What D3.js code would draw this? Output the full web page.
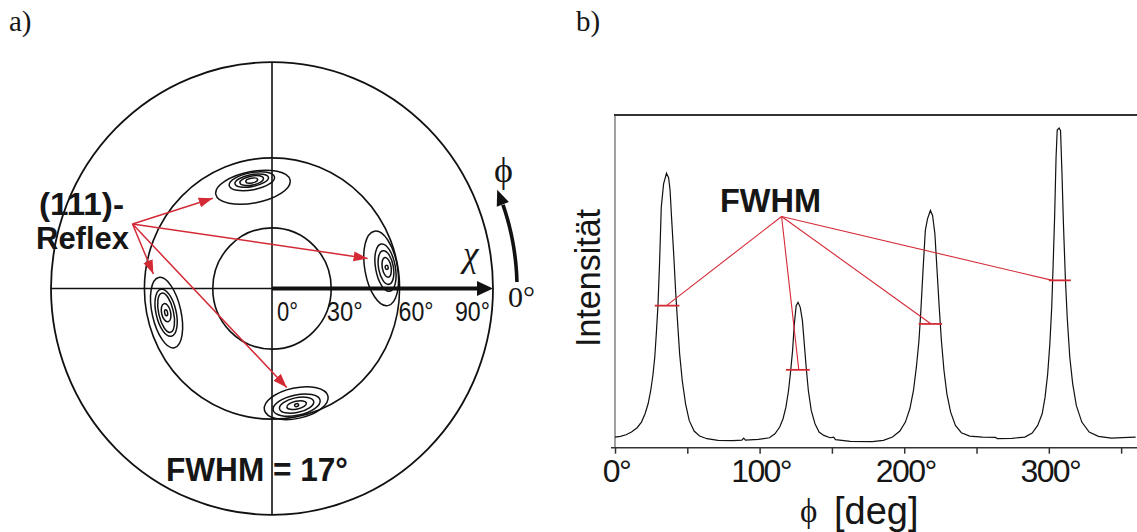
<!DOCTYPE html>
<html>
<head>
<meta charset="utf-8">
<script src="https://cdn.jsdelivr.net/npm/d3@7"></script>
<style>
  body { margin: 0; background: #fff; }
  svg text { font-family: "Liberation Sans", Arial, sans-serif; fill: #161616; }
  svg text.serif { font-family: "Liberation Serif", "Times New Roman", "DejaVu Serif", serif; }
</style>
</head>
<body>
<svg id="fig" width="1137" height="532"></svg>
<script>
// ---------- a) pole figure ----------
const chiCircles = [30, 60, 90];
const chiLabelValues = [0, 30, 60, 90];
const chiLabels = ["0°", "30°", "60°", "90°"];

// (111) reflexes: centre in (chi, phi), degrees
const reflexChi = [51.8, 55.6, 52.3, 55.6];
const reflexPhi = [100.9, 10.2, 192.6, 282.2];
// contour half widths (deg), inner -> outer, per reflex
const contourDPhi = [
  [3.2, 6.4, 9.1, 12.3, 20.2],
  [1.0, 4.9, 8.4, 11.8, 18.6],
  [1.6, 4.9, 10.6, 12.7, 19.0],
  [1.0, 4.9, 8.6, 11.8, 16.0]
];
const contourDChi = [
  [1.0, 1.9, 2.5, 3.6, 6.6],
  [0.6, 1.8, 3.0, 4.0, 6.6],
  [0.6, 1.9, 3.1, 4.2, 6.0],
  [0.6, 1.6, 3.0, 4.1, 6.2]
];
const contourShift = [
  [0, 0, 0, -0.3, -2.8],
  [0, 0, -0.3, -0.5, -2.3],
  [0, 0, 0, 0, -0.2],
  [0, 0, 0, 0, -0.8]
];
// annotation arrows (chi, phi)
const arrowFrom = [69.4, 155.7];
const arrowTipChi = [51.3, 48.7, 56.8, 47.7];
const arrowTipPhi = [123.9, 17.1, 173.2, 278.7];

// ---------- b) phi scan ----------
const scanPhi = [0, 3.8, 7.6, 11.4, 15.3, 18.3, 20.8, 22.9, 24.7, 26.2, 27.5, 28.7, 29.7, 30.8, 32.0,
  33.6, 35.6, 37.1, 38.1, 39.1, 40.7, 41.9, 43.2, 44.7, 46.5, 48.8, 51.3, 54.7, 58.5, 63.6,
  71.2, 81.3, 87.7, 89.0, 90.2, 99.1, 106.8,
  110.6, 113.9, 116.2, 118.2, 120.0, 121.5, 122.8, 124.0, 125.3, 126.6, 128.1, 129.6, 130.9, 132.2, 133.7,
  135.7, 138.3, 141.1, 144.4, 148.7, 151.2, 152.5, 162.7, 177.9, 185.6,
  191.9, 197.0, 200.8, 203.9, 206.4, 208.4, 210.2, 211.5, 213.0, 214.6, 216.1, 218.1, 219.6, 221.2, 222.7,
  224.2, 225.7, 227.5, 229.5, 232.1, 235.4, 239.5, 245.3, 254.2, 263.1, 264.4, 274.5, 283.4,
  288.5, 292.3, 295.4, 297.4, 299.2, 300.7, 302.0, 303.0, 304.0, 305.0, 305.8, 307.1, 308.1, 309.1, 310.1,
  311.4, 312.7, 314.5, 316.5, 319.0, 322.8, 327.9, 334.3, 343.2, 350.8, 360];
const scanInt = [3.2, 3.4, 3.9, 4.7, 6.0, 7.7, 10.2, 13.2, 17.2, 21.7, 27.2, 35.2, 42.7, 55.3, 72.3,
  79.3, 82.5, 81.1, 77.3, 69.3, 57.3, 47.2, 38.2, 28.2, 20.2, 13.2, 8.2, 5.0, 3.5, 2.7,
  2.2, 2.1, 2.3, 2.9, 2.3, 2.5, 3.0,
  4.2, 6.2, 8.7, 12.2, 17.2, 23.2, 29.2, 37.2, 42.7, 43.7, 42.2, 38.2, 31.2, 24.2, 17.2,
  11.2, 7.2, 4.7, 3.7, 3.0, 3.2, 2.4, 1.9, 1.8, 2.2,
  3.2, 5.0, 7.7, 11.7, 17.2, 24.2, 32.2, 41.2, 53.3, 65.3, 68.8, 71.3, 69.8, 64.3, 53.3,
  42.2, 32.2, 23.2, 16.2, 10.7, 6.7, 4.5, 3.5, 3.2, 3.1, 2.7, 2.8, 3.2,
  4.4, 6.7, 10.2, 15.2, 22.2, 31.2, 42.2, 55.3, 69.3, 87.3, 95.5, 96.1, 95.3, 82.3, 67.3,
  51.3, 39.2, 27.2, 19.2, 12.7, 7.7, 4.7, 3.4, 2.9, 3.0, 3.2];
const phiTicks = [0, 50, 100, 150, 200, 250, 300, 350];
const phiTickLabels = ["0°", "", "100°", "", "200°", "", "300°", ""];
// FWHM bars
const fwhmLeft = [27.5, 118.2, 210.0, 300.0];
const fwhmRight = [44.5, 134.7, 226.2, 315.2];
const fwhmLevel = [42.7, 23.4, 37.2, 50.3];
const fwhmLeaderPhi = [35.6, 127.1, 218.6, 302.5];
const fwhmHub = [115.2, 69.5];

const RED = "#d42a36";
const svg = d3.select("#fig");

svg.append("defs").append("marker")
    .attr("id", "redhead")
    .attr("markerUnits", "userSpaceOnUse")
    .attr("markerWidth", 15).attr("markerHeight", 11)
    .attr("refX", 14).attr("refY", 5.5)
    .attr("orient", "auto")
  .append("path")
    .attr("d", "M0,0.5 L14,5.5 L0,10.5 Z")
    .attr("fill", RED);

svg.append("text").attr("class", "serif")
    .attr("x", 9).attr("y", 31).attr("font-size", 29).text("a)");
svg.append("text").attr("class", "serif")
    .attr("x", 576).attr("y", 31).attr("font-size", 29).text("b)");

// ---- pole figure geometry (stereographic) ----
const cx = 272, cy = 288.5, R = 221, ky = 1.024;
const rScale = d3.scaleLinear().domain([0, 1]).range([0, R]);
const rad = chi => rScale(Math.tan(chi * Math.PI / 360));
function pole(chi, phi) {
  const r = rad(chi), a = phi * Math.PI / 180;
  return [cx + r * Math.cos(a), cy - ky * r * Math.sin(a)];
}

const pa = svg.append("g");

pa.selectAll("ellipse.ring").data(chiCircles).enter()
  .append("ellipse")
    .attr("cx", cx).attr("cy", cy)
    .attr("rx", d => rad(d)).attr("ry", d => ky * rad(d))
    .attr("fill", "none").attr("stroke", "#111")
    .attr("stroke-width", d => d == 90 ? 1.8 : 1.6);

// cross lines
pa.append("line")
    .attr("x1", cx).attr("x2", cx)
    .attr("y1", cy - ky * R).attr("y2", cy + ky * R)
    .attr("stroke", "#111").attr("stroke-width", 1.6);
pa.append("line")
    .attr("x1", cx - R).attr("x2", cx)
    .attr("y1", cy).attr("y2", cy)
    .attr("stroke", "#111").attr("stroke-width", 1.6);

// chi axis arrow
const tipX = cx + rad(90);
pa.append("line")
    .attr("x1", cx).attr("x2", tipX - 12)
    .attr("y1", cy).attr("y2", cy)
    .attr("stroke", "#111").attr("stroke-width", 4.2);
pa.append("path")
    .attr("d", `M${tipX},${cy} L${tipX - 16},${cy - 7.5} L${tipX - 16},${cy + 7.5} Z`)
    .attr("fill", "#111");

// chi labels
const labDx = [5, -4.5, -1, -38];
const labLen = [21, 36, 35, 35];
pa.selectAll("text.chi").data(chiLabelValues).enter()
  .append("text")
    .attr("x", (d, i) => cx + rad(d) + labDx[i])
    .attr("y", 321)
    .attr("font-size", 27)
    .attr("textLength", (d, i) => labLen[i])
    .attr("lengthAdjust", "spacingAndGlyphs")
    .text((d, i) => chiLabels[i]);

pa.append("text").attr("class", "serif")
    .attr("x", 463).attr("y", 266).attr("font-size", 35)
    .attr("font-style", "italic").text("χ");

// phi rotation arrow
const arcChi = 95.9;
const arcPts = d3.range(1.5, 19.6, 0.5).map(p => pole(arcChi, p));
pa.append("path")
    .attr("d", d3.line()(arcPts))
    .attr("fill", "none").attr("stroke", "#111").attr("stroke-width", 3.6);
{
  const tip = pole(arcChi, 23.2), base = pole(arcChi, 19.6);
  const dx = tip[0] - base[0], dy = tip[1] - base[1], L = Math.hypot(dx, dy);
  const nx = -dy / L * 6.5, ny = dx / L * 6.5;
  pa.append("path")
      .attr("d", `M${tip[0]},${tip[1]} L${base[0] + nx},${base[1] + ny} L${base[0] - nx},${base[1] - ny} Z`)
      .attr("fill", "#111");
}
pa.append("text").attr("class", "serif")
    .attr("x", 494).attr("y", 182).attr("font-size", 36).text("ϕ");
pa.append("text").attr("class", "serif")
    .attr("x", 508).attr("y", 307).attr("font-size", 30).text("0°");

// reflex contours
reflexChi.forEach((chi, i) => {
  const phi = reflexPhi[i];
  const g = pa.append("g");
  g.selectAll("ellipse").data(contourDPhi[i]).enter()
    .append("ellipse")
      .attr("transform", (d, j) => {
        const c = pole(chi + contourShift[i][j], phi);
        return `translate(${c[0]},${c[1]}) rotate(${90 - phi})`;
      })
      .attr("rx", d => rad(chi) * d * Math.PI / 180)
      .attr("ry", (d, j) => (rad(chi + contourDChi[i][j]) - rad(chi - contourDChi[i][j])) / 2)
      .attr("fill", "none").attr("stroke", "#111").attr("stroke-width", 1.5);
});

// red annotation arrows
const from = pole(arrowFrom[0], arrowFrom[1]);
pa.selectAll("line.ann").data(arrowTipChi).enter()
  .append("line")
    .attr("x1", from[0]).attr("y1", from[1])
    .attr("x2", (d, i) => pole(d, arrowTipPhi[i])[0])
    .attr("y2", (d, i) => pole(d, arrowTipPhi[i])[1])
    .attr("stroke", RED).attr("stroke-width", 1.5)
    .attr("marker-end", "url(#redhead)");

pa.append("text").attr("x", 39).attr("y", 215)
    .attr("font-size", 31).attr("font-weight", "bold")
    .attr("textLength", 85).attr("lengthAdjust", "spacingAndGlyphs")
    .text("(111)-");
pa.append("text").attr("x", 36).attr("y", 249)
    .attr("font-size", 32).attr("font-weight", "bold")
    .attr("textLength", 93).attr("lengthAdjust", "spacingAndGlyphs")
    .text("Reflex");
pa.append("text").attr("x", 166).attr("y", 481)
    .attr("font-size", 34).attr("font-weight", "bold")
    .attr("textLength", 182).attr("lengthAdjust", "spacingAndGlyphs")
    .text("FWHM = 17°");

// ---- b) phi scan ----
const x = d3.scaleLinear().domain([0, 360]).range([615, 1135.6]);
const y = d3.scaleLinear().domain([0, 100]).range([447.7, 115]);
const pb = svg.append("g");

pb.append("line")
    .attr("x1", x(0)).attr("x2", x(0)).attr("y1", y(100)).attr("y2", y(0))
    .attr("stroke", "#8a8a8a").attr("stroke-width", 1.6);
pb.append("line")
    .attr("x1", x(0) - 1).attr("x2", 1137).attr("y1", y(100)).attr("y2", y(100))
    .attr("stroke", "#333").attr("stroke-width", 2);

const xAxis = pb.append("g")
    .attr("transform", `translate(0,${y(0)})`)
    .call(d3.axisBottom(x).tickValues(phiTicks).tickSize(6).tickSizeOuter(0)
      .tickFormat((d, i) => phiTickLabels[i]));
xAxis.select(".domain").attr("stroke", "#333").attr("stroke-width", 1.6)
    .attr("d", `M${x(0) - 4},0H1137`);
xAxis.selectAll(".tick line").attr("stroke", "#333").attr("stroke-width", 1.5);
xAxis.selectAll(".tick text")
    .attr("y", 34.3).attr("dy", 0).attr("dx", 1)
    .attr("font-size", 32).attr("letter-spacing", -1.6)
    .style("font-family", "'Liberation Sans', Arial, sans-serif")
    .attr("fill", "#161616");

const scan = scanPhi.map((p, i) => [p, scanInt[i]]);
pb.append("path")
    .datum(scan)
    .attr("d", d3.line().x(d => x(d[0])).y(d => y(d[1])))
    .attr("fill", "none").attr("stroke", "#111").attr("stroke-width", 1.2);

// FWHM bars and leaders
pb.selectAll("line.bar").data(fwhmLevel).enter()
  .append("line")
    .attr("x1", (d, i) => x(fwhmLeft[i])).attr("x2", (d, i) => x(fwhmRight[i]))
    .attr("y1", d => y(d)).attr("y2", d => y(d))
    .attr("stroke", RED).attr("stroke-width", 1.8);
pb.selectAll("line.lead").data(fwhmLevel).enter()
  .append("line")
    .attr("x1", x(fwhmHub[0])).attr("y1", y(fwhmHub[1]))
    .attr("x2", (d, i) => x(fwhmLeaderPhi[i])).attr("y2", d => y(d))
    .attr("stroke", RED).attr("stroke-width", 1.1);

pb.append("text").attr("x", 720).attr("y", 212)
    .attr("font-size", 34).attr("font-weight", "bold")
    .attr("textLength", 101).attr("lengthAdjust", "spacingAndGlyphs")
    .text("FWHM");

pb.append("text")
    .attr("transform", "translate(600,278) rotate(-90)")
    .attr("text-anchor", "middle")
    .attr("font-size", 35)
    .attr("textLength", 138).attr("lengthAdjust", "spacingAndGlyphs")
    .text("Intensität");

pb.append("text").attr("class", "serif")
    .attr("x", 800).attr("y", 522).attr("font-size", 33).text("ϕ");
pb.append("text")
    .attr("x", 834).attr("y", 523.5).attr("font-size", 38)
    .text("[deg]");
</script>
</body>
</html>
